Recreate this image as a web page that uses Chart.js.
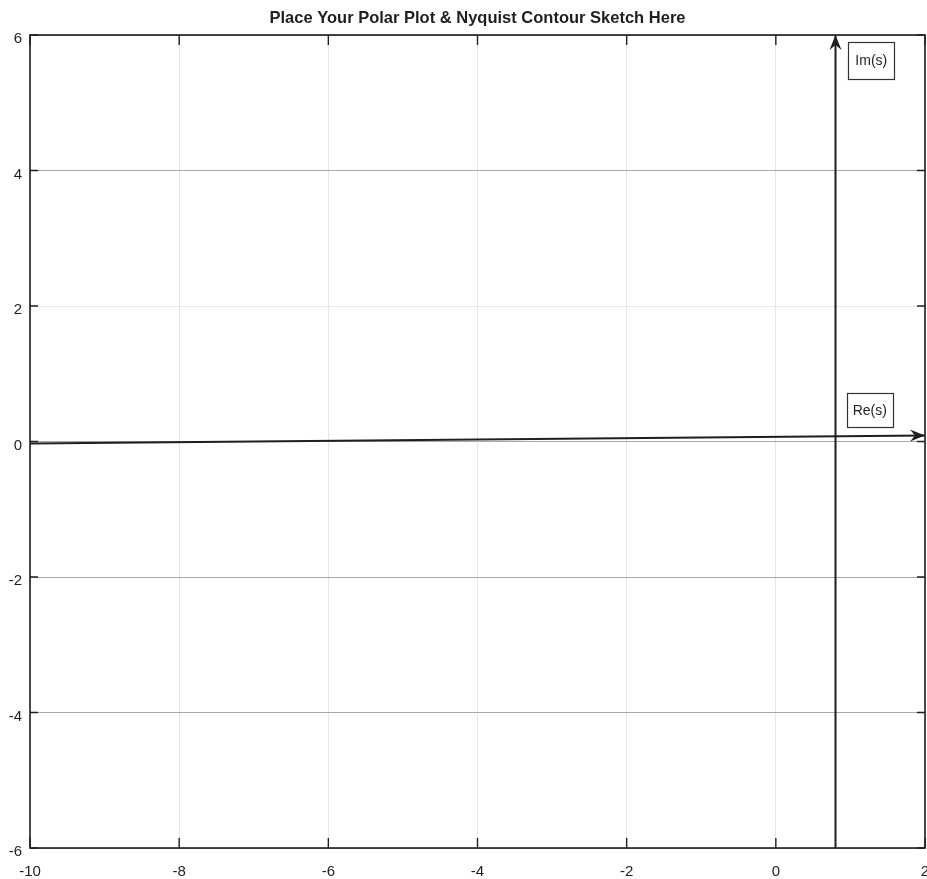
<!DOCTYPE html>
<html>
<head>
<meta charset="utf-8">
<script src="https://cdn.jsdelivr.net/npm/chart.js@4.4.1/dist/chart.umd.min.js"></script>
<style>
  html, body { margin: 0; padding: 0; background: #ffffff; }
  #wrap { width: 927px; height: 879px; }
</style>
</head>
<body>
<div id="wrap"><canvas id="plot" width="927" height="879"></canvas></div>
<script>
// Axis ranges and tick values of the s-plane sheet
const xTickValues = [-10, -8, -6, -4, -2, 0, 2];
const yTickValues = [-6, -4, -2, 0, 2, 4, 6];

// Real axis (arrow pointing right) and imaginary axis (arrow pointing up)
const realAxisRe = [-10, 2];
const realAxisIm = [-0.03, 0.09];
const imagAxisRe = [0.8, 0.8];
const imagAxisIm = [-6, 6];

// Boxed axis names, anchored in data units
const axisNames = ['Im(s)', 'Re(s)'];
const axisNameRe = [1.28, 1.26];
const axisNameIm = [5.63, 0.47];

const titleText = 'Place Your Polar Plot & Nyquist Contour Sketch Here';

const toPoints = (xs, ys) => xs.map((x, i) => ({ x: x, y: ys[i] }));

const INK = '#1f1f1f';
const FONT = "'Liberation Sans', Arial, Helvetica, sans-serif";

// Arrowheads at the last point of each axis line
const arrowHeads = {
  id: 'arrowHeads',
  afterDatasetsDraw(chart) {
    const ctx = chart.ctx;
    chart.data.datasets.forEach((ds, i) => {
      const pts = chart.getDatasetMeta(i).data;
      if (pts.length < 2) return;
      const tip = pts[pts.length - 1], prev = pts[pts.length - 2];
      const a = Math.atan2(tip.y - prev.y, tip.x - prev.x);
      const len = 15, half = 6, notch = 10;
      ctx.save();
      ctx.translate(tip.x, tip.y);
      ctx.rotate(a);
      ctx.beginPath();
      ctx.moveTo(0, 0);
      ctx.lineTo(-len, -half);
      ctx.lineTo(-notch, 0);
      ctx.lineTo(-len, half);
      ctx.closePath();
      ctx.fillStyle = INK;
      ctx.fill();
      ctx.restore();
    });
  }
};

// Boxed labels for the axes
const nameBoxes = {
  id: 'nameBoxes',
  afterDatasetsDraw(chart) {
    const ctx = chart.ctx;
    const xs = chart.scales.x, ys = chart.scales.y;
    ctx.save();
    ctx.font = '14px ' + FONT;
    ctx.textAlign = 'center';
    ctx.textBaseline = 'middle';
    axisNames.forEach((name, i) => {
      const cx = xs.getPixelForValue(axisNameRe[i]);
      const cy = ys.getPixelForValue(axisNameIm[i]);
      const w = 46, h = i === 0 ? 37 : 34;
      ctx.fillStyle = '#ffffff';
      ctx.fillRect(cx - w / 2, cy - h / 2, w, h);
      ctx.strokeStyle = '#333333';
      ctx.lineWidth = 1.2;
      ctx.strokeRect(Math.round(cx - w / 2) + 0.5, Math.round(cy - h / 2) + 0.5, w, h);
      ctx.fillStyle = INK;
      ctx.fillText(name, cx, cy + 1);
    });
    ctx.restore();
  }
};

// Box frame with inward tick marks on all four sides
const frameBox = {
  id: 'frameBox',
  afterDraw(chart) {
    const ctx = chart.ctx;
    const a = chart.chartArea;
    const xs = chart.scales.x, ys = chart.scales.y;
    ctx.save();
    ctx.strokeStyle = INK;
    ctx.lineWidth = 1.6;
    ctx.strokeRect(a.left, a.top, a.right - a.left, a.bottom - a.top);
    ctx.lineWidth = 1.4;
    ctx.beginPath();
    xTickValues.forEach(v => {
      const px = xs.getPixelForValue(v);
      ctx.moveTo(px, a.top); ctx.lineTo(px, a.top + 10);
      ctx.moveTo(px, a.bottom); ctx.lineTo(px, a.bottom - 10);
    });
    yTickValues.forEach(v => {
      const py = ys.getPixelForValue(v);
      ctx.moveTo(a.left, py); ctx.lineTo(a.left + 8, py);
      ctx.moveTo(a.right, py); ctx.lineTo(a.right - 8, py);
    });
    ctx.stroke();
    ctx.restore();
  }
};

const axisLine = (pts) => ({
  data: pts,
  showLine: true,
  borderColor: INK,
  borderWidth: 2,
  pointRadius: 0,
  pointHoverRadius: 0,
  clip: false,
  tension: 0
});

new Chart(document.getElementById('plot'), {
  type: 'scatter',
  data: {
    datasets: [
      axisLine(toPoints(realAxisRe, realAxisIm)),
      axisLine(toPoints(imagAxisRe, imagAxisIm))
    ]
  },
  plugins: [arrowHeads, nameBoxes, frameBox],
  options: {
    responsive: false,
    animation: false,
    events: [],
    layout: { padding: { left: 0, right: 2, top: 0, bottom: 0 } },
    plugins: {
      legend: { display: false },
      tooltip: { enabled: false },
      title: {
        display: true,
        fullSize: false,
        text: titleText,
        color: INK,
        font: { family: FONT, size: 16.5, weight: 'bold' },
        padding: { top: 8.3, bottom: 6.9 }
      }
    },
    scales: {
      x: {
        type: 'linear',
        min: -10,
        max: 2,
        afterBuildTicks: (s) => { s.ticks = xTickValues.map(v => ({ value: v })); },
        afterFit: (s) => { s.height = 31; s.paddingLeft = 0; s.paddingRight = 0; },
        border: { display: false },
        grid: {
          drawTicks: false,
          color: '#e6e6e6',
          lineWidth: 1,
          borderDash: [1, 3]
        },
        ticks: {
          color: INK,
          padding: 15,
          maxRotation: 0,
          autoSkip: false,
          font: { family: FONT, size: 15 }
        }
      },
      y: {
        type: 'linear',
        min: -6,
        max: 6,
        afterBuildTicks: (s) => { s.ticks = yTickValues.map(v => ({ value: v })); },
        afterFit: (s) => { s.width = 30; s.paddingTop = 0; s.paddingBottom = 0; },
        border: { display: false },
        grid: {
          drawTicks: false,
          color: (c) => (c.tick && c.tick.value === 2) ? '#e8e8e8' : '#a8a8a8',
          lineWidth: 1,
          borderDash: [1, 2]
        },
        ticks: {
          color: INK,
          padding: 8,
          labelOffset: 4,
          autoSkip: false,
          font: { family: FONT, size: 15 }
        }
      }
    }
  }
});
</script>
</body>
</html>
